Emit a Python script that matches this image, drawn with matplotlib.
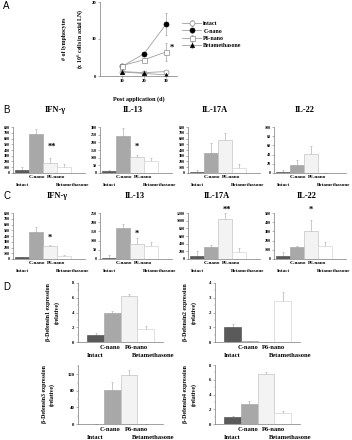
import numpy as np
import matplotlib
matplotlib.use("Agg")
import matplotlib.pyplot as plt

W, H = 352, 440
SERIF = "Liberation Serif"
SANS = "Liberation Sans"

# ---- panel A data ----
days = [10, 20, 30]
lymph = {
    "intact": ([1.2, 0.9, 1.2], [0.4, 0.2, 0.2]),
    "C-nano": ([2.6, 6.0, 14.0], [0.3, 0.4, 3.0]),
    "P6-nano": ([2.8, 4.4, 6.5], [0.3, 0.5, 2.4]),
    "Betamethasone": ([1.1, 0.7, 0.3], [0.4, 0.2, 0.1]),
}

# ---- bar panels data ----
groups = ["Intact", "C-nano", "P6-nano", "Betamethasone"]

ifng_b = [55, 680, 170, 100]
ifng_b_err = [45, 90, 90, 55]
il13_b = [10, 240, 103, 77]
il13_b_err = [12, 55, 15, 18]
il17a_b = [25, 345, 575, 85]
il17a_b_err = [20, 170, 115, 70]
il22_b = [3, 18, 41, 1]
il22_b_err = [4, 10, 18, 0]

ifng_c = [29, 470, 225, 55]
ifng_c_err = [8, 80, 15, 20]
il13_c = [8, 168, 80, 72]
il13_c_err = [14, 24, 32, 18]
il17a_c = [90, 315, 1050, 185]
il17a_c_err = [120, 60, 150, 100]
il22_c = [36, 127, 300, 145]
il22_c_err = [40, 12, 125, 45]

def1 = [1.0, 3.9, 6.2, 1.8]
def1_err = [0.2, 0.35, 0.25, 0.35]
def2 = [1.0, 0.05, 0.0, 2.8]
def2_err = [0.2, 0.0, 0.0, 0.6]
def3 = [1.0, 83, 118, 1.0]
def3_err = [0.0, 20, 14, 0.0]
def4 = [1.0, 2.7, 6.8, 1.5]
def4_err = [0.15, 0.4, 0.3, 0.3]

bar_colors = ["#5a5a5a", "#a8a8a8", "#f3f3f3", "#ffffff"]
bar_edges = ["#5a5a5a", "#a8a8a8", "#c4c4c4", "#d4d4d4"]
ERR = "#b4b4b4"
SPINE = "#7a7a7a"

fig = plt.figure(figsize=(W / 100, H / 100), dpi=100)


def px_axes(x0, y0, x1, y1):
    return fig.add_axes([x0 / W, 1 - y1 / H, (x1 - x0) / W, (y1 - y0) / H])


def style(ax, fs=3.2):
    for s in ["top", "right"]:
        ax.spines[s].set_visible(False)
    for s in ["left", "bottom"]:
        ax.spines[s].set_color(SPINE)
        ax.spines[s].set_linewidth(0.5)
    ax.tick_params(labelsize=fs, length=1.5, width=0.4, pad=1, colors="black")
    ax.tick_params(axis="both", color=SPINE)
    for lab in ax.get_xticklabels() + ax.get_yticklabels():
        lab.set_fontfamily(SERIF)
        lab.set_fontweight("bold")


def bar_panel(box, vals, errs, ymax, step, small, star=None, big=False):
    ax = px_axes(*box)
    x = np.arange(4)
    ax.bar(x, vals, width=1.0, align="edge", color=bar_colors,
           edgecolor=bar_edges, linewidth=0.5, zorder=2)
    ax.errorbar(x + 0.5, vals, yerr=[np.zeros(4), errs], fmt="none",
                ecolor=ERR, elinewidth=0.5, capsize=1, capthick=0.5, zorder=1)
    if big:
        ax.set_xlim(-0.55, 4.55)
    else:
        ax.set_xlim(-0.15, 5.0)
    ax.set_ylim(0, ymax)
    ax.set_yticks(np.arange(0, small + step / 2, step))
    ax.set_xticks([])
    style(ax, 3.4 if big else 3.0)
    fs = 4.7 if big else 3.7
    r1, r2 = (-4.3, -10.0) if big else (-3.0, -8.6)
    if big:
        pos = [(0.5, r2, "center"), (1.4, r1, "center"), (2.95, r1, "center"), (2.7, r2, "left")]
    else:
        pos = [(0.5, r2, "center"), (1.55, r1, "center"), (2.9, r1, "center"), (2.95, r2, "left")]
    for name, (px, off, ha) in zip(groups, pos):
        ax.annotate(name, xy=(px, 0), xycoords=("data", "axes fraction"),
                    xytext=(0, off), textcoords="offset points", ha=ha, va="center",
                    fontsize=fs, family=SERIF, fontweight="bold", annotation_clip=False)
    if star:
        ax.text(star[0], star[1], star[2], ha="center", va="center", fontsize=6,
                family=SERIF, fontweight="bold", clip_on=False)
    return ax


# ---- panel A ----
axA = px_axes(100, 2, 177, 76)
styles = {
    "intact": dict(marker="o", mfc="white", mec="#8a8a8a", ms=3.6),
    "C-nano": dict(marker="o", mfc="black", mec="black", ms=3.6),
    "P6-nano": dict(marker="s", mfc="white", mec="#8a8a8a", ms=3.6),
    "Betamethasone": dict(marker="^", mfc="black", mec="black", ms=3.0),
}
for name, (v, e) in lymph.items():
    axA.errorbar(days, v, yerr=e, color="#a0a0a0", lw=0.6, ecolor="#a0a0a0",
                 elinewidth=0.5, capsize=1, mew=0.5, label=name, **styles[name])
axA.set_xlim(0, 35)
axA.set_ylim(0, 20)
axA.set_xticks(days)
axA.set_yticks([0, 10, 20])
style(axA, 3.4)
axA.text(32.5, 7.6, "*", ha="center", va="center", fontsize=6, family=SERIF,
         fontweight="bold")
axA.set_xlabel("Post application (d)", fontsize=4.4, family=SERIF, fontweight="bold",
               labelpad=9)
axA.set_ylabel("# of lymphocytes\n(x 10$^6$ cells in axial LN)", fontsize=4.2,
               family=SERIF, fontweight="bold", labelpad=5, linespacing=2.2)
leg = axA.legend(loc="upper left", bbox_to_anchor=(180 / W, 1 - 19 / H),
                 bbox_transform=fig.transFigure, frameon=False, handlelength=3.2,
                 labelspacing=0.35, handletextpad=0.4, borderaxespad=0,
                 prop=dict(family=SERIF, weight="bold", size=4.2))

# ---- panel B ----
xs = [(13, 85), (100, 172), (188, 260), (274, 346)]
b_sets = [
    (ifng_b, ifng_b_err, 800, 100, 800, (2.6, 450, "**")),
    (il13_b, il13_b_err, 300, 50, 300, (2.5, 170, "*")),
    (il17a_b, il17a_b_err, 800, 100, 800, None),
    (il22_b, il22_b_err, 100, 20, 100, None),
]
for (x0, x1), (v, e, ym, st, sm, star) in zip(xs, b_sets):
    bar_panel((x0, 127, x1, 173), v, e, ym, st, sm, star)

# ---- panel C ----
c_sets = [
    (ifng_c, ifng_c_err, 800, 100, 800, (2.5, 365, "*")),
    (il13_c, il13_c_err, 250, 50, 250, (2.5, 136, "*")),
    (il17a_c, il17a_c_err, 1200, 200, 1200, (2.6, 1280, "**")),
    (il22_c, il22_c_err, 500, 100, 500, (2.5, 532, "*")),
]
for (x0, x1), (v, e, ym, st, sm, star) in zip(xs, c_sets):
    bar_panel((x0, 213, x1, 259), v, e, ym, st, sm, star)

titles = ["IFN-γ", "IL-13", "IL-17A", "IL-22"]
tx = [55, 133, 215, 305]
for t, x in zip(titles, tx):
    fig.text(x / W, 1 - 110 / H, t, ha="center", va="center", fontsize=6,
             family=SERIF, fontweight="bold")
    fig.text((x + 2) / W, 1 - 196 / H, t, ha="center", va="center", fontsize=6,
             family=SERIF, fontweight="bold")

# ---- panel D ----
d_sets = [
    ((78, 283, 163, 342), def1, def1_err, 8, 2, 8, "β-Defensin1 expression"),
    ((215, 283, 300, 342), def2, def2_err, 4, 1, 4, "β-Defensin2 expression"),
    ((78, 365, 163, 424), def3, def3_err, 143, 40, 120, "β-Defensin3 expression"),
    ((215, 365, 300, 424), def4, def4_err, 8, 2, 8, "β-Defensin4 expression"),
]
for box, v, e, ym, st, sm, lab in d_sets:
    ax = bar_panel(box, v, e, ym, st, sm, big=True)
    ax.set_yticks(np.arange(st / 2, ym, st), minor=True)
    ax.tick_params(which="minor", length=1.0, width=0.3, color=SPINE)
    ax.set_ylabel(lab + "\n(relative)", fontsize=4.2, family=SERIF,
                  fontweight="bold", labelpad=9, linespacing=1.5)

for letter, y in zip("ABCD", [6, 110, 196, 287]):
    fig.text(3 / W, 1 - y / H, letter, ha="left", va="center", fontsize=7, family=SANS)

fig.savefig("out.png", dpi=100)
